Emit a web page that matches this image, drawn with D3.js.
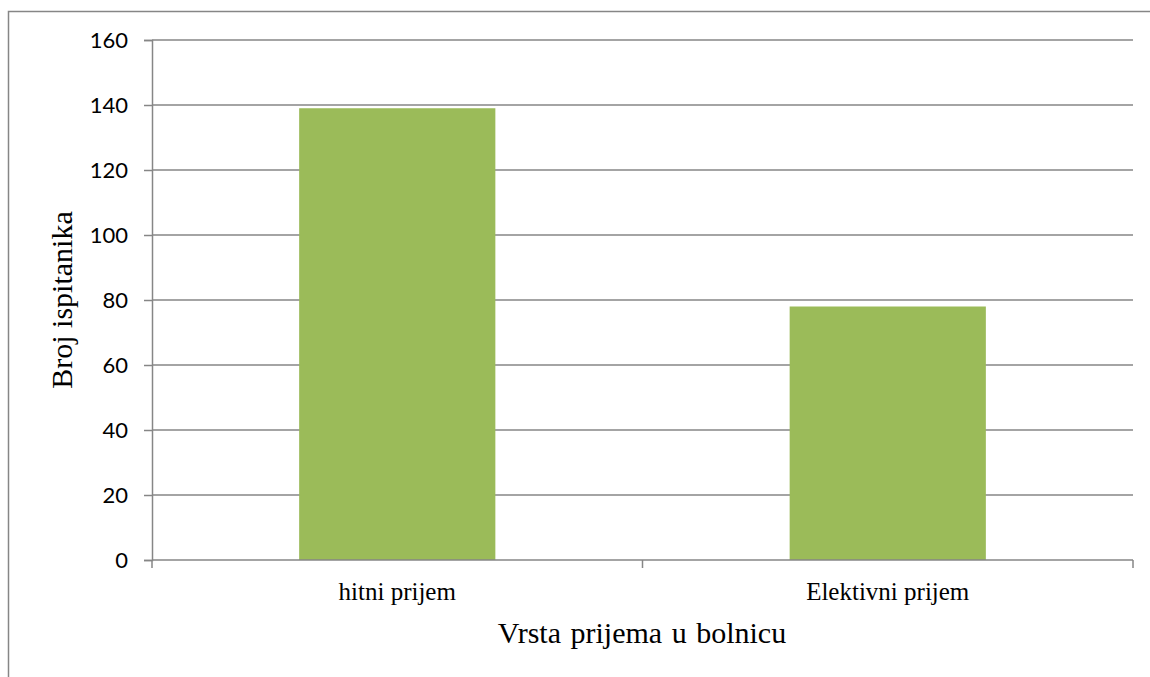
<!DOCTYPE html>
<html>
<head>
<meta charset="utf-8">
<script src="https://cdn.jsdelivr.net/npm/d3@7"></script>
<style>
  body { margin: 0; background: #fff; overflow: hidden; }
  svg { display: block; }
</style>
</head>
<body>
<svg id="chart"></svg>
<script>
const categories = ['hitni prijem', 'Elektivni prijem'];
const values = [139, 78];
const yTicks = [0, 20, 40, 60, 80, 100, 120, 140, 160];

const WIDTH = 1150;
const HEIGHT = 677;
const LEFT = 152;
const RIGHT = 1133;
const TOP = 40;
const BOTTOM = 560;
const GRID = '#868686';
const SERIF = '"Liberation Serif", "Times New Roman", serif';

const svg = d3.select('#chart')
  .attr('width', WIDTH)
  .attr('height', HEIGHT);

// outer chart frame (right and bottom edges fall off the page)
svg.append('rect')
  .attr('x', 8.5)
  .attr('y', 11.5)
  .attr('width', WIDTH + 20)
  .attr('height', HEIGHT + 20)
  .attr('fill', 'none')
  .attr('stroke', GRID)
  .attr('stroke-width', 1.5);

const x = d3.scaleBand()
  .domain(categories)
  .range([LEFT, RIGHT])
  .paddingInner(0.6)
  .paddingOuter(0.3);

const y = d3.scaleLinear()
  .domain([0, 160])
  .range([BOTTOM, TOP]);

// gridlines
svg.append('g')
  .selectAll('line')
  .data(yTicks.filter(d => d > 0))
  .join('line')
  .attr('x1', LEFT)
  .attr('x2', RIGHT)
  .attr('y1', d => y(d))
  .attr('y2', d => y(d))
  .attr('stroke', GRID)
  .attr('stroke-width', 1.5);

// bars
svg.append('g')
  .selectAll('rect')
  .data(values)
  .join('rect')
  .attr('x', (d, i) => x(categories[i]))
  .attr('y', d => y(d))
  .attr('width', x.bandwidth())
  .attr('height', d => y(0) - y(d))
  .attr('fill', '#9bbb59');

// y axis
const yAxis = svg.append('g')
  .attr('transform', `translate(${LEFT},0)`)
  .call(d3.axisLeft(y).tickValues(yTicks).tickSize(8).tickPadding(16));
yAxis.selectAll('path, line').attr('stroke', GRID).attr('stroke-width', 1.5);
yAxis.selectAll('text')
  .attr('font-family', 'Lato, sans-serif')
  .attr('font-size', 22)
  .attr('fill', '#000');

// x axis: ticks sit on the band boundaries
const xAxisG = svg.append('g')
  .attr('transform', `translate(0,${BOTTOM})`);
xAxisG.append('line')
  .attr('x1', LEFT).attr('x2', RIGHT)
  .attr('stroke', GRID).attr('stroke-width', 1.5);
const bounds = [LEFT, (LEFT + RIGHT) / 2, RIGHT];
xAxisG.selectAll('line.tick')
  .data(bounds)
  .join('line')
  .attr('class', 'tick')
  .attr('x1', d => d).attr('x2', d => d)
  .attr('y1', 0).attr('y2', 8)
  .attr('stroke', GRID).attr('stroke-width', 1.5);
xAxisG.selectAll('text')
  .data(categories)
  .join('text')
  .attr('x', d => x(d) + x.bandwidth() / 2)
  .attr('y', 40)
  .attr('text-anchor', 'middle')
  .attr('font-family', SERIF)
  .attr('font-size', 25)
  .text(d => d);

// axis titles
svg.append('text')
  .attr('x', 642)
  .attr('y', 643)
  .attr('text-anchor', 'middle')
  .attr('font-family', SERIF)
  .attr('font-size', 30)
  .attr('word-spacing', 2)
  .text('Vrsta prijema u bolnicu');

svg.append('text')
  .attr('transform', `translate(72,${(TOP + BOTTOM) / 2}) rotate(-90)`)
  .attr('text-anchor', 'middle')
  .attr('font-family', SERIF)
  .attr('font-size', 30)
  .text('Broj ispitanika');
</script>
</body>
</html>
